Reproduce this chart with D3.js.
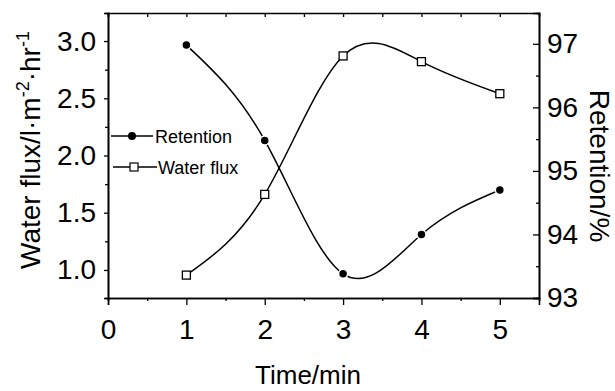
<!DOCTYPE html>
<html>
<head>
<meta charset="utf-8">
<script src="https://cdn.jsdelivr.net/npm/d3@7"></script>
<style>
  body { margin: 0; background: #fff; }
  svg { font-family: "Liberation Sans", Arial, sans-serif; }
</style>
</head>
<body>
<div id="chart"></div>
<script>
// Data
const times = [1, 2, 3, 4, 5];
const retention = [96.98, 95.48, 93.38, 94.0, 94.7];
const waterFlux = [0.955, 1.66, 2.87, 2.82, 2.54];
const xTicks = [0, 1, 2, 3, 4, 5];
const leftTicks = [1.0, 1.5, 2.0, 2.5, 3.0];
const rightTicks = [93, 94, 95, 96, 97];

const w = 615;
const h = 391;
const mLeft = 108, mRight = 539, mTop = 13, mBottom = 298;

const svg = d3.select("#chart").append("svg")
  .attr("width", w).attr("height", h);

// Scales
const x = d3.scaleLinear().domain([0, 5.5]).range([mLeft, mRight]);
const yL = d3.scaleLinear().domain([0.755, 3.245]).range([mBottom, mTop]);
const yR = d3.scaleLinear().domain([93, 97.485]).range([mBottom, mTop]);

// Axes (Origin style ticks)
const xAxis = d3.axisBottom(x).tickValues(xTicks).tickSize(7).tickPadding(14)
  .tickFormat(d3.format("d"));
const xMinor = d3.axisBottom(x).tickValues(d3.range(0.5, 5.5, 1)).tickSize(3).tickFormat("");
const xTop = d3.axisTop(x).tickValues(d3.range(0, 5.5, 0.5)).tickSize(-4).tickFormat("");

const yAxisL = d3.axisLeft(yL).tickValues(leftTicks).tickSize(4).tickPadding(8)
  .tickFormat(d3.format(".1f"));
const yMinorL = d3.axisLeft(yL).tickValues(d3.range(1.25, 3.25, 0.5)).tickSize(3).tickFormat("");

const yAxisR = d3.axisRight(yR).tickValues(rightTicks).tickSize(-6).tickPadding(8)
  .tickFormat(d3.format("d"));
const yMinorR = d3.axisRight(yR).tickValues(d3.range(93.5, 97.5, 1)).tickSize(-3).tickFormat("");

function styleAxis(g, fs) {
  g.selectAll(".domain").attr("stroke", "#000").attr("stroke-width", 1.6);
  g.selectAll(".tick line").attr("stroke", "#000").attr("stroke-width", 1.3);
  g.selectAll(".tick text").attr("fill", "#000").style("font-size", fs + "px");
  g.attr("font-family", null);
}

svg.append("g").attr("transform", `translate(0,${mBottom})`).call(xAxis).call(styleAxis, 28);
svg.append("g").attr("transform", `translate(0,${mBottom})`).call(xMinor).call(styleAxis, 28);
svg.append("g").attr("transform", `translate(0,${mTop})`).call(xTop).call(styleAxis, 28);
svg.append("g").attr("transform", `translate(${mLeft},0)`).call(yAxisL).call(styleAxis, 28);
svg.append("g").attr("transform", `translate(${mLeft},0)`).call(yMinorL).call(styleAxis, 28);
svg.append("g").attr("transform", `translate(${mRight},0)`).call(yAxisR).call(styleAxis, 28);
svg.append("g").attr("transform", `translate(${mRight},0)`).call(yMinorR).call(styleAxis, 28);

// Curves
const curve = d3.curveNatural;
const lineL = d3.line().x((d, i) => x(times[i])).y(d => yL(d)).curve(curve);
const lineR = d3.line().x((d, i) => x(times[i])).y(d => yR(d)).curve(curve);

svg.append("path").datum(waterFlux).attr("d", lineL)
  .attr("fill", "none").attr("stroke", "#000").attr("stroke-width", 1.5);
svg.append("path").datum(retention).attr("d", lineR)
  .attr("fill", "none").attr("stroke", "#000").attr("stroke-width", 1.5);

// Markers
svg.selectAll(".ret").data(retention).enter().append("circle")
  .attr("cx", (d, i) => x(times[i])).attr("cy", d => yR(d)).attr("r", 4.5)
  .attr("fill", "#000").attr("stroke", "#fff").attr("stroke-width", 1.5);
svg.selectAll(".wf").data(waterFlux).enter().append("rect")
  .attr("x", (d, i) => x(times[i]) - 4).attr("y", d => yL(d) - 4)
  .attr("width", 8).attr("height", 8)
  .attr("fill", "#fff").attr("stroke", "#000").attr("stroke-width", 1.3);

// Legend
const lg = svg.append("g");
lg.append("line").attr("x1", 111).attr("x2", 153).attr("y1", 136).attr("y2", 136)
  .attr("stroke", "#000").attr("stroke-width", 1.3);
lg.append("circle").attr("cx", 132).attr("cy", 136).attr("r", 4).attr("fill", "#000");
lg.append("text").attr("x", 155).attr("y", 143).style("font-size", "18px").text("Retention");
lg.append("line").attr("x1", 113).attr("x2", 157).attr("y1", 167).attr("y2", 167)
  .attr("stroke", "#000").attr("stroke-width", 1.3);
lg.append("rect").attr("x", 130).attr("y", 163).attr("width", 8).attr("height", 8)
  .attr("fill", "#fff").attr("stroke", "#000").attr("stroke-width", 1.2);
lg.append("text").attr("x", 158).attr("y", 174).style("font-size", "18px").text("Water flux");

// Axis titles
svg.append("text").attr("x", 308).attr("y", 384)
  .attr("text-anchor", "middle").style("font-size", "26px").text("Time/min");

const lt = svg.append("text")
  .attr("transform", "translate(40,150) rotate(-90)")
  .attr("text-anchor", "middle").style("font-size", "28px");
lt.append("tspan").text("Water flux/l·m");
lt.append("tspan").attr("dy", -11).style("font-size", "18px").text("-2");
lt.append("tspan").attr("dy", 11).text("·hr");
lt.append("tspan").attr("dy", -11).style("font-size", "18px").text("-1");

svg.append("text")
  .attr("transform", "translate(590,166) rotate(90)")
  .attr("text-anchor", "middle").style("font-size", "28px").text("Retention/%");
</script>
</body>
</html>
